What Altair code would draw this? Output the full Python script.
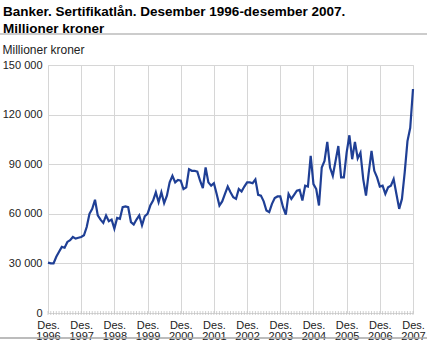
import altair as alt
import pandas as pd

# Monthly values, Dec 1996 .. Dec 2007 (millioner kroner)
values = [
    30500, 30000, 30000, 34000, 37000, 40000, 39500, 43000, 44000, 46000, 45000, 45500,  # Dec96-Nov97
    46000, 47000, 52000, 60000, 63000, 68500, 59000, 56500, 54500, 59000, 55500, 56500,  # Dec97-Nov98
    51000, 57500, 57000, 64000, 64500, 64000, 55000, 53500, 56500, 59000, 53000, 58500,  # Dec98-Nov99
    60000, 65000, 68000, 73000, 67000, 73000, 66500, 71000, 79000, 83000, 79000, 80500,  # Dec99-Nov00
    80000, 75000, 76000, 87000, 86000, 86000, 85500, 80000, 75500, 88000, 79000, 77000,  # Dec00-Nov01
    78500, 72000, 65000, 67500, 72000, 76500, 73000, 70000, 69000, 75000, 73500, 76500,  # Dec01-Nov02
    79000, 79000, 78500, 80800, 71500, 71000, 67500, 62000, 61000, 66000, 69500, 70500,  # Dec02-Nov03
    70500, 64000, 59500, 72000, 69000, 71500, 74000, 74500, 68000, 77000, 76500, 95000,  # Dec03-Nov04
    78000, 75000, 65000, 88000, 92000, 103500, 88000, 83000, 92000, 101000, 82000, 82000,  # Dec04-Nov05
    97000, 107500, 93000, 103500, 93500, 97000, 81000, 71000, 85000, 98000, 86000, 82000,  # Dec05-Nov06
    76500, 77000, 72000, 76000, 77000, 81000, 72000, 63000, 69000, 85000, 104000, 112000,  # Dec06-Nov07
    135500,  # Dec07
]
year_tick_months = [0, 12, 24, 36, 48, 60, 72, 84, 96, 108, 120, 132]
y_ticks = [0, 30000, 60000, 90000, 120000, 150000]
title_lines = ["Banker. Sertifikatlån. Desember 1996-desember 2007.", "Millioner kroner"]
y_title = "Millioner kroner"

df = pd.DataFrame({"maaned": list(range(len(values))), "verdi": values})
one = pd.DataFrame({"a": [0]})

FONT = "Liberation Sans"

x_axis = alt.Axis(
    values=year_tick_months,
    labelExpr="['Des.', '' + (1996 + datum.value / 12)]",
    grid=True, gridColor="#d6d6d6", gridWidth=1,
    domain=False, ticks=False,
    labelFont=FONT, labelFontSize=11, labelColor="#222222",
    labelPadding=6, labelLineHeight=11, labelOverlap=False, labelFlush=False,
    labelBaseline="top", labelSeparation=0,
    title=None,
)
y_axis = alt.Axis(
    values=y_ticks,
    labelExpr="replace(format(datum.value, ','), ',', ' ')",
    grid=True, gridColor="#d6d6d6", gridWidth=1,
    domain=False, ticks=False,
    labelFont=FONT, labelFontSize=11, labelColor="#222222", labelPadding=6,
    labelOverlap=False,
    title=y_title, titleAngle=0, titleX=-46, titleY=-12,
    titleAlign="left", titleBaseline="alphabetic",
    titleFont=FONT, titleFontSize=12, titleFontWeight="normal", titleColor="#222222",
)
x_scale = alt.Scale(domain=[0, 132], nice=False, zero=False)
y_scale = alt.Scale(domain=[0, 150000], nice=False)

line = alt.Chart(df).mark_line(color="#1f3f95", strokeWidth=2.2).encode(
    x=alt.X("maaned:Q", scale=x_scale, axis=x_axis),
    y=alt.Y("verdi:Q", scale=y_scale, axis=y_axis),
)

month_ticks = alt.Chart(df).mark_tick(orient="vertical", size=4, thickness=1, color="#bdbdbd").encode(
    x=alt.X("maaned:Q", scale=x_scale, axis=x_axis),
    y=alt.datum(0, scale=y_scale, axis=y_axis),
)

top_rule = alt.Chart(one).mark_rule(color="#cccccc", strokeWidth=2).encode(
    x=alt.value(-48), x2=alt.value(379), y=alt.value(-31)
)
bottom_rule = alt.Chart(one).mark_rule(color="#a6a6a6", strokeWidth=1.5).encode(
    x=alt.value(-48), x2=alt.value(379), y=alt.value(273)
)

chart = alt.layer(line, month_ticks, top_rule, bottom_rule).properties(
    width=365,
    height=248,
    autosize=alt.AutoSizeParams(type="none"),
    padding={"left": 48, "top": 65, "right": 14, "bottom": 40},
    title=alt.TitleParams(
        text=title_lines, anchor="start", frame="group", dx=-45, dy=2,
        font=FONT, fontSize=13.5, fontWeight="bold", lineHeight=17, color="#000000",
        offset=0,
    ),
).configure_view(stroke=None).configure(background="white")

chart.save("out.html", embed_options={"renderer": "svg", "actions": False})
